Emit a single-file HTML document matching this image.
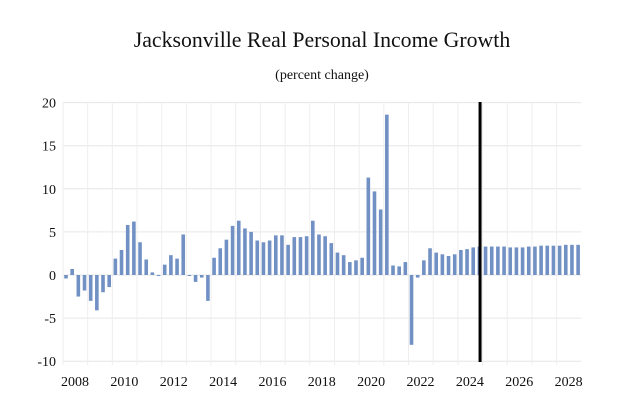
<!DOCTYPE html>
<html><head><meta charset="utf-8"><style>
body{margin:0;background:#fff;}
svg{display:block;font-family:"Liberation Serif",serif;}
</style></head><body>
<svg id="chart" width="627" height="414">
<text x="322" y="47" text-anchor="middle" font-size="21.8" fill="#111">Jacksonville Real Personal Income Growth</text>
<text x="322" y="79" text-anchor="middle" font-size="14" fill="#111">(percent change)</text>
<g id="grid"></g><g id="bars"></g><g id="axes"></g>
</svg>
<script>
const yTicks=[20,15,10,5,0,-5,-10];
const yearLabels=[2008,2010,2012,2014,2016,2018,2020,2022,2024,2026,2028];
const startYear=2008;
const values=[-0.4,0.7,-2.5,-1.8, -3.0,-4.1,-2.0,-1.4, 1.9,2.9,5.8,6.2, 3.8,1.8,0.3,-0.1,
1.2,2.3,1.9,4.7, -0.1,-0.8,-0.3,-3.0, 2.0,3.1,4.1,5.7, 6.3,5.4,5.0,4.0,
3.8,4.0,4.6,4.6, 3.5,4.4,4.4,4.5, 6.3,4.7,4.5,3.7, 2.6,2.3,1.5,1.7,
2.0,11.3,9.7,7.6, 18.6,1.1,1.0,1.5, -8.1,-0.3,1.7,3.1, 2.6,2.4,2.2,2.4,
2.9,3.0,3.2,3.3, 3.3,3.3,3.3,3.3, 3.2,3.2,3.2,3.3, 3.3,3.4,3.4,3.4, 3.4,3.5,3.5,3.5];
const forecastStart=2025.0;
const NS="http://www.w3.org/2000/svg";
const x0=63,pxYear=24.68,yZero=275,pxUnit=8.62;
const xYear=t=>x0+(t-startYear)*pxYear;
const y=v=>yZero-v*pxUnit;
function mk(tag,attrs,parent){const e=document.createElementNS(NS,tag);for(const k in attrs)e.setAttribute(k,attrs[k]);parent.appendChild(e);return e;}
const grid=document.getElementById('grid'),bars=document.getElementById('bars'),axes=document.getElementById('axes');
const xEnd=xYear(2029);
yTicks.forEach(t=>{
 const l=mk('line',{x1:x0,x2:xEnd,y1:y(t),y2:y(t),stroke:'#e6e6e6','stroke-width':1},grid);
 
 
 const tx=mk('text',{x:56,y:y(t)+5,'text-anchor':'end','font-size':14,fill:'#111'},axes);
 tx.textContent=t;
 
 
});
for(let yr=startYear;yr<=2028;yr++){
 const l=mk('line',{x1:xYear(yr),x2:xYear(yr),y1:y(20),y2:y(-10)+4,stroke:'#eeeeee','stroke-width':1},grid);
 
 
}
yearLabels.forEach(yr=>{
 const tx=mk('text',{x:xYear(yr)+12,y:386,'text-anchor':'middle','font-size':14,fill:'#111'},axes);
 tx.textContent=yr;
 
 
});
values.forEach((v,i)=>{
 const cx=xYear(startYear+i/4)+3;
 const top=Math.min(y(v),y(0)),h=Math.max(Math.abs(y(v)-y(0)),1);
 const r=mk('rect',{x:cx-1.8,y:top,width:3.6,height:h,fill:'#7190c4'},bars);
 
 
});
const fl=mk('line',{x1:xYear(forecastStart)-2.5,x2:xYear(forecastStart)-2.5,y1:102,y2:362,stroke:'#000','stroke-width':3},axes);


</script>
</body></html>
